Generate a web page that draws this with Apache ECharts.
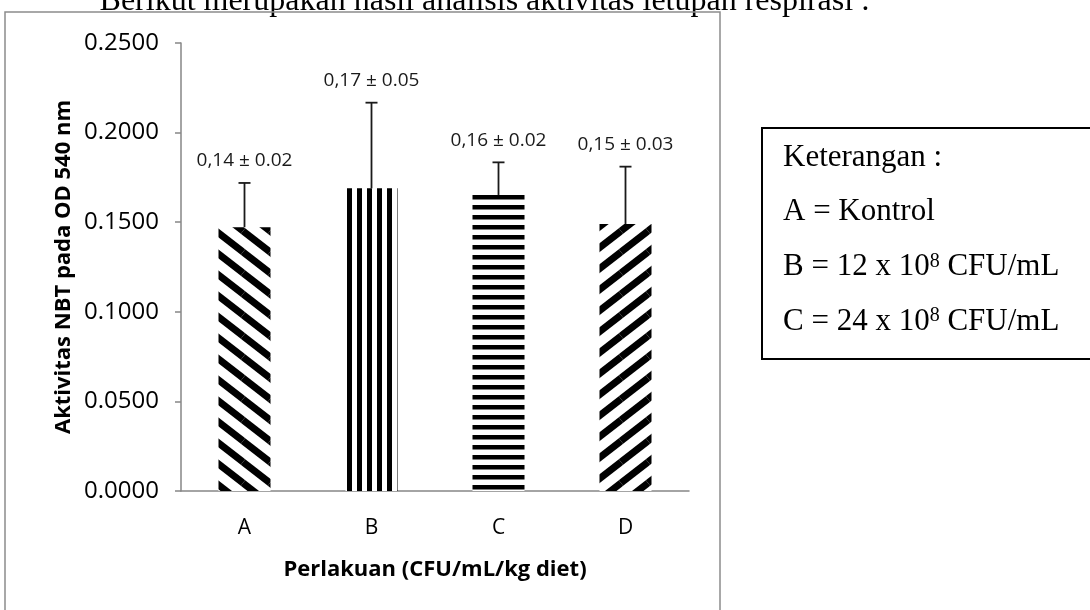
<!DOCTYPE html>
<html>
<head>
<meta charset="utf-8">
<script src="https://cdn.jsdelivr.net/npm/echarts@6/dist/echarts.min.js"></script>
<style>
  html, body { margin: 0; padding: 0; background: #fff; }
  #chart { width: 1090px; height: 610px; }
</style>
</head>
<body>
<div id="chart"></div>
<script>
// data
const categories = ['A', 'B', 'C', 'D'];
const means = [0.1472, 0.1689, 0.1652, 0.1490];
const errors = [0.0247, 0.0478, 0.0182, 0.0320];
const meanLabels = ['0,14', '0,17', '0,16', '0,15'];
const sdLabels = ['0.02', '0.05', '0.02', '0.03'];
const legendLines = [
  'Keterangan :',
  'A = Kontrol',
  'B = 12 x 10{s|8} CFU/mL',
  'C = 24 x 10{s|8} CFU/mL',
];

/* 条纹填充 */
function makePattern(kind) {
  const c = document.createElement('canvas');
  const ctx = c.getContext('2d');
  if (kind === 'vert') {
    c.width = 10; c.height = 4;
    ctx.fillStyle = '#fff'; ctx.fillRect(0, 0, 10, 4);
    ctx.fillStyle = '#000';
    ctx.fillRect(7, 0, 5, 4);
    ctx.fillRect(-3, 0, 5, 4);
  } else if (kind === 'horiz') {
    c.width = 4; c.height = 10;
    ctx.fillStyle = '#fff'; ctx.fillRect(0, 0, 4, 10);
    ctx.fillStyle = '#000';
    ctx.fillRect(0, 5, 4, 4.5);
  } else {
    const w = 27, h = 21;
    c.width = w; c.height = h;
    ctx.fillStyle = '#fff'; ctx.fillRect(0, 0, w, h);
    ctx.strokeStyle = '#000';
    ctx.lineWidth = 7;
    for (let dx = -w; dx <= w; dx += w) {
      for (let dy = -h; dy <= h; dy += h) {
        ctx.beginPath();
        if (kind === 'down') {
          ctx.moveTo(dx, dy); ctx.lineTo(dx + w, dy + h);
        } else {
          ctx.moveTo(dx, dy + h); ctx.lineTo(dx + w, dy);
        }
        ctx.stroke();
      }
    }
  }
  return { image: c, repeat: 'repeat' };
}
const patterns = [makePattern('down'), makePattern('vert'), makePattern('horiz'), makePattern('up')];

const myChart = echarts.init(document.getElementById('chart'));
const sans = '"Open Sans", "Noto Sans", sans-serif';
const serif = '"Liberation Serif", "DejaVu Serif", serif';

const option = {
  animation: false,
  backgroundColor: '#fff',
  grid: { left: 181, top: 43, width: 508, height: 448, containLabel: false },
  xAxis: {
    type: 'category',
    data: categories,
    name: 'Perlakuan (CFU/mL/kg diet)',
    nameLocation: 'middle',
    nameGap: 68,
    nameTextStyle: { fontFamily: sans, fontWeight: 'bold', fontSize: 22, color: '#000' },
    axisLine: { lineStyle: { color: '#868686', width: 1.5 } },
    axisTick: { show: false },
    axisLabel: { margin: 27, fontFamily: sans, fontSize: 21, color: '#000' },
  },
  yAxis: {
    type: 'value',
    min: 0,
    max: 0.25,
    interval: 0.05,
    name: 'Aktivitas NBT pada OD 540 nm',
    nameLocation: 'middle',
    nameGap: 106,
    nameTextStyle: { fontFamily: sans, fontWeight: 'bold', fontSize: 22, color: '#000' },
    axisLine: { show: true, lineStyle: { color: '#868686', width: 1.5 } },
    axisTick: { show: true, length: 6, lineStyle: { color: '#868686', width: 1.5 } },
    splitLine: { show: false },
    axisLabel: {
      margin: 22,
      fontFamily: sans,
      fontSize: 24,
      color: '#000',
      formatter: (v) => v.toFixed(4),
    },
  },
  series: [
    {
      type: 'bar',
      barWidth: 52,
      data: means.map((v, i) => ({ value: v, itemStyle: { color: patterns[i] } })),
    },
    {
      type: 'custom',
      data: means.map((v, i) => [i, v, errors[i]]),
      z: 5,
      renderItem(params, api) {
        const i = api.value(0);
        const base = api.coord([i, api.value(1)]);
        const top = api.coord([i, api.value(1) + api.value(2)]);
        const stroke = { stroke: '#1a1a1a', lineWidth: 1.8 };
        return {
          type: 'group',
          children: [
            { type: 'line', shape: { x1: base[0], y1: base[1], x2: top[0], y2: top[1] }, style: stroke },
            { type: 'line', shape: { x1: top[0] - 6, y1: top[1], x2: top[0] + 6, y2: top[1] }, style: stroke },
            {
              type: 'text',
              x: top[0],
              y: top[1] - 22,
              style: {
                text: `${meanLabels[i]} ± ${sdLabels[i]}`,
                align: 'center',
                verticalAlign: 'middle',
                font: `19px ${sans}`,
                fill: '#1a1a1a',
              },
            },
          ],
        };
      },
    },
  ],
  graphic: [
    {
      type: 'text',
      x: 870,
      y: 2,
      style: {
        text: 'Berikut merupakan hasil analisis aktivitas letupan respirasi :',
        font: `32px ${serif}`,
        align: 'right',
        verticalAlign: 'middle',
        fill: '#000',
      },
    },
    {
      type: 'rect',
      shape: { x: 5, y: 12, width: 715, height: 620 },
      style: { fill: 'none', stroke: '#8c8c8c', lineWidth: 1.5 },
      silent: true,
    },
    {
      type: 'rect',
      shape: { x: 762, y: 128, width: 340, height: 231 },
      style: { fill: '#fff', stroke: '#000', lineWidth: 2 },
    },
    ...legendLines.map((t, i) => ({
      type: 'text',
      x: 783,
      y: 157.5 + i * 54.7,
      style: {
        text: t,
        font: `31px ${serif}`,
        verticalAlign: 'middle',
        fill: '#000',
        rich: {
          s: { font: `20px ${serif}`, fontSize: 20, fontFamily: serif, verticalAlign: 'top', fill: '#000' },
        },
      },
    })),
  ],
};
myChart.setOption(option);
window.onresize = () => myChart.resize();
</script>
</body>
</html>
